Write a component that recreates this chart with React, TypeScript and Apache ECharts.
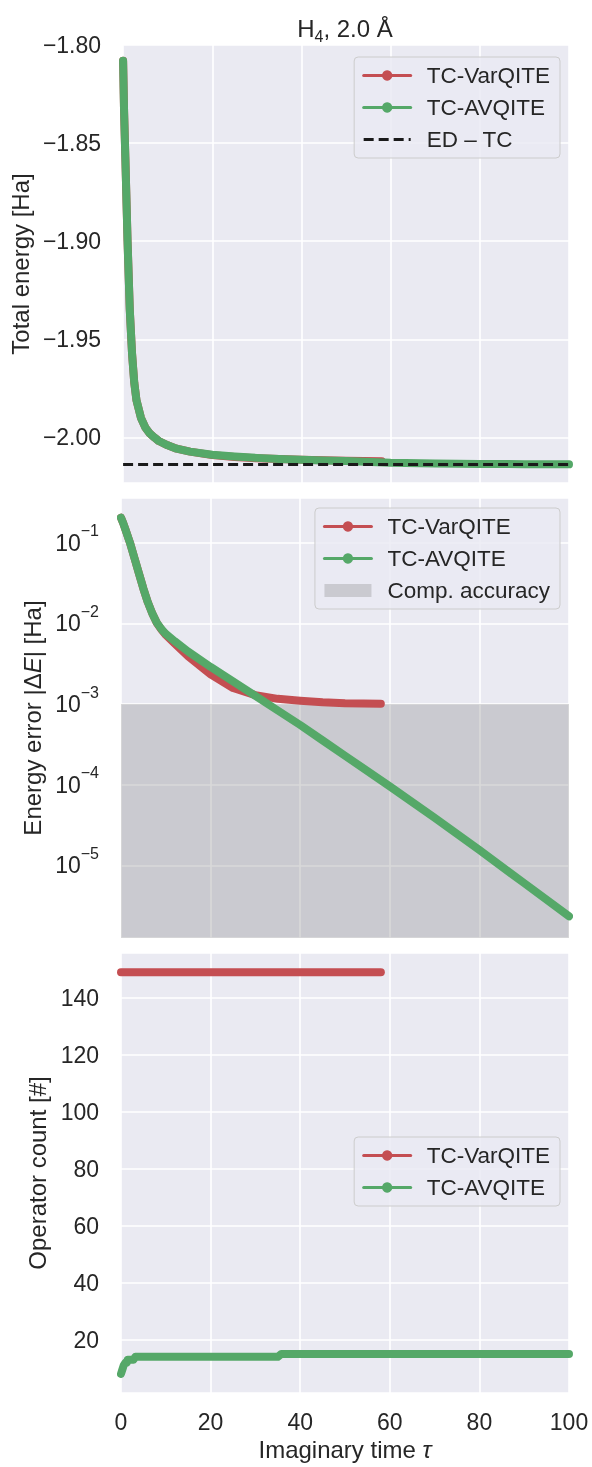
import React, { useEffect, useRef } from "react";
import * as echarts from "echarts";

const FONT = "Liberation Sans, Arial, Helvetica, sans-serif";
const TEXT = "#262626";
const RED = "#C44E52";
const GREEN = "#55A868";

// ---- Panel 1: total energy ----
const tauEnergyAV = [0, 0.2, 0.5, 1, 1.5, 2, 2.5, 3, 4, 5, 6, 7, 8, 10, 12, 15, 20, 25, 30, 35, 40, 45, 50, 60, 70, 80, 90, 100];
const energyAV = [-1.808, -1.832, -1.857, -1.9, -1.935, -1.957, -1.972, -1.981, -1.99, -1.995, -1.998, -2.0, -2.0018, -2.004, -2.0057, -2.0072, -2.0088, -2.0097, -2.0104, -2.011, -2.0114, -2.0117, -2.012, -2.0129, -2.0132, -2.0135, -2.0136, -2.0137];
const tauEnergyVar = [0, 0.2, 0.5, 1, 1.5, 2, 2.5, 3, 4, 5, 6, 7, 8, 10, 12, 15, 20, 25, 30, 35, 40, 45, 50, 58];
const energyVar = [-1.808, -1.832, -1.857, -1.9, -1.935, -1.957, -1.972, -1.981, -1.99, -1.995, -1.998, -2.0, -2.0018, -2.004, -2.0057, -2.0072, -2.009, -2.01, -2.0106, -2.011, -2.0113, -2.0116, -2.0118, -2.0121];
const edTC = -2.0138;
const energyAxis = { min: -2.0232, max: -1.8 };

// ---- Panel 2: energy error ----
const tauErrAV = [0, 0.5, 1, 2, 3, 4, 5, 6, 7, 8, 9, 10, 12, 15, 20, 25, 30, 35, 40, 45, 50, 60, 70, 80, 90, 100];
const errAV = [0.204, 0.174, 0.145, 0.1, 0.0646, 0.0417, 0.0269, 0.0182, 0.0132, 0.0102, 0.0085, 0.0074, 0.006, 0.00447, 0.00288, 0.00191, 0.00126, 0.000832, 0.00055, 0.000355, 0.000229, 9.55e-5, 3.89e-5, 1.55e-5, 6.03e-6, 2.34e-6];
const tauErrVar = [0, 0.5, 1, 2, 3, 4, 5, 6, 7, 8, 9, 10, 12, 15, 20, 25, 30, 35, 40, 45, 50, 58];
const errVar = [0.204, 0.174, 0.145, 0.1, 0.0646, 0.0417, 0.0269, 0.0182, 0.0132, 0.0101, 0.0084, 0.0072, 0.00562, 0.00389, 0.00234, 0.00158, 0.00129, 0.00116, 0.0011, 0.00105, 0.00102, 0.00101];
const compAccuracy = 1e-3;
const errAxis = { min: 1.26e-6, max: 0.358 };

// ---- Panel 3: operator count ----
const tauOpAV = [0, 0.2, 0.4, 0.6, 1.0, 1.3, 1.5, 2.8, 3.2, 35, 35.8, 100];
const opAV = [8, 9, 10, 11, 12, 12, 13, 13, 14, 14, 15, 15];
const tauOpVar = [0, 58];
const opVar = [149, 149];
const opAxis = { min: 1.3, max: 155.8 };

const xTicks = { min: 0, max: 100, interval: 20 };
const names = { var: "TC-VarQITE", av: "TC-AVQITE", ed: "ED \u2013 TC", acc: "Comp. accuracy" };

const pairs = (xs: number[], ys: number[]) => xs.map((x, i) => [x, ys[i]]);
const isMult = (v: number, step: number) => Math.abs(v / step - Math.round(v / step)) < 1e-6;
const minus = (s: string) => s.replace("-", "\u2212");

export default function App() {
  const ref = useRef<HTMLDivElement>(null);
  useEffect(() => {
    if (!ref.current) return;
    const chart = echarts.init(ref.current, undefined, { renderer: "svg" });
    const grids = [
      { left: 121, top: 45, width: 448, height: 438 },
      { left: 121, top: 498, width: 448, height: 440 },
      { left: 121, top: 953, width: 448, height: 440 },
    ].map((g) => ({ ...g, show: true, backgroundColor: "#EAEAF2", borderWidth: 0 }));

    const TICK = 23;
    const NAME = 24;
    const splitLine = { show: true, lineStyle: { color: "#ffffff", width: 1.6 } };
    const labelBase = { color: TEXT, fontSize: TICK, fontFamily: FONT };
    const nameStyle = { color: TEXT, fontSize: NAME, fontFamily: FONT };
    const italicRich = { i: { fontStyle: "italic", fontSize: NAME, fontFamily: FONT, color: TEXT } };
    const xBase = {
      type: "value",
      ...xTicks,
      axisLine: { show: false },
      axisTick: { show: false },
      splitLine,
    };
    const yBase = { axisLine: { show: false }, axisTick: { show: false }, splitLine, nameLocation: "middle" };

    const lineSeries = (name: string, data: number[][], color: string, xi: number, z: number) => ({
      name,
      type: "line",
      xAxisIndex: xi,
      yAxisIndex: xi,
      data,
      color,
      symbol: "circle",
      showSymbol: false,
      z,
      lineStyle: { width: 8, color, cap: "round", join: "round" },
      itemStyle: { color },
      emphasis: { disabled: true },
    });

    const legendBase = {
      orient: "vertical",
      right: 32,
      itemWidth: 47,
      itemHeight: 13,
      itemGap: 9,
      padding: [7, 10, 7, 8],
      backgroundColor: "rgba(234,234,242,0.8)",
      borderColor: "#cccccc",
      borderWidth: 1,
      borderRadius: 4,
      selectedMode: false,
      textStyle: { color: TEXT, fontSize: 22.5, fontFamily: FONT, padding: [0, 0, 0, 11] },
      lineStyle: { width: 3 },
    };

    chart.setOption({
      animation: false,
      grid: grids,
      graphic: [
        {
          type: "text",
          x: 345,
          y: 28,
          style: {
            text: "H{sub|4}, 2.0 \u00C5",
            fill: TEXT,
            font: `${NAME}px ${FONT}`,
            fontSize: NAME,
            fontFamily: FONT,
            lineHeight: 32,
            align: "center",
            verticalAlign: "middle",
            textAlign: "center",
            textVerticalAlign: "middle",
            rich: {
              sub: { fontSize: 16, fontFamily: FONT, fill: TEXT, verticalAlign: "bottom", lineHeight: 16 },
            },
          },
        },
      ],
      legend: [
        {
          ...legendBase,
          top: 57,
          data: [names.var, names.av, { name: names.ed, itemStyle: { opacity: 0 } }],
        },
        { ...legendBase, top: 508, data: [names.var, names.av, { name: names.acc, icon: "rect" }] },
        { ...legendBase, top: 1137, data: [names.var, names.av] },
      ],
      xAxis: [
        { ...xBase, gridIndex: 0, axisLabel: { show: false } },
        { ...xBase, gridIndex: 1, axisLabel: { show: false } },
        {
          ...xBase,
          gridIndex: 2,
          axisLabel: { ...labelBase, margin: 17 },
          name: "Imaginary time {i|\u03C4}",
          nameLocation: "middle",
          nameGap: 44,
          nameTextStyle: { ...nameStyle, rich: italicRich },
        },
      ],
      yAxis: [
        {
          ...yBase,
          type: "value",
          gridIndex: 0,
          ...energyAxis,
          splitNumber: 5,
          axisLabel: {
            ...labelBase,
            margin: 22,
            formatter: (v: number) => (isMult(v, 0.05) ? minus(v.toFixed(2)) : ""),
          },
          name: "Total energy [Ha]",
          nameGap: 85,
          nameTextStyle: nameStyle,
        },
        {
          ...yBase,
          type: "log",
          logBase: 10,
          gridIndex: 1,
          ...errAxis,
          axisLabel: {
            ...labelBase,
            margin: 22,
            formatter: (v: number) => {
              const n = Math.log10(v);
              if (Math.abs(n - Math.round(n)) > 1e-6) return "";
              return "{b|10}{s|" + minus(String(Math.round(n))) + "}";
            },
            rich: {
              b: { fontSize: TICK, fontFamily: FONT, color: TEXT, lineHeight: 40 },
              s: { fontSize: 16, fontFamily: FONT, color: TEXT, verticalAlign: "top", lineHeight: 16 },
            },
          },
          name: "Energy error |\u0394{i|E}| [Ha]",
          nameGap: 75,
          nameTextStyle: { ...nameStyle, rich: italicRich },
        },
        {
          ...yBase,
          type: "value",
          gridIndex: 2,
          ...opAxis,
          splitNumber: 8,
          axisLabel: {
            ...labelBase,
            margin: 22,
            formatter: (v: number) => (isMult(v, 20) ? String(Math.round(v)) : ""),
          },
          name: "Operator count [#]",
          nameGap: 66,
          nameTextStyle: nameStyle,
        },
      ],
      series: [
        lineSeries(names.var, pairs(tauEnergyVar, energyVar), RED, 0, 2),
        lineSeries(names.av, pairs(tauEnergyAV, energyAV), GREEN, 0, 3),
        {
          name: names.ed,
          type: "line",
          xAxisIndex: 0,
          yAxisIndex: 0,
          data: [
            [xTicks.min, edTC],
            [xTicks.max, edTC],
          ],
          symbol: "none",
          color: "#1a1a1a",
          z: 4,
          lineStyle: { width: 3, color: "#1a1a1a", type: [10, 5] },
          itemStyle: { color: "#1a1a1a" },
        },
        {
          name: names.acc,
          type: "line",
          xAxisIndex: 1,
          yAxisIndex: 1,
          data: [],
          color: "rgba(128,128,128,0.3)",
          itemStyle: { color: "rgba(128,128,128,0.3)" },
          z: 1,
          markArea: {
            silent: true,
            itemStyle: { color: "rgba(128,128,128,0.3)" },
            data: [[{ yAxis: errAxis.min }, { yAxis: compAccuracy }]],
          },
        },
        lineSeries(names.var, pairs(tauErrVar, errVar), RED, 1, 2),
        lineSeries(names.av, pairs(tauErrAV, errAV), GREEN, 1, 3),
        lineSeries(names.var, pairs(tauOpVar, opVar), RED, 2, 2),
        lineSeries(names.av, pairs(tauOpAV, opAV), GREEN, 2, 3),
      ],
    });
    return () => chart.dispose();
  }, []);
  return <div ref={ref} style={{ position: "fixed", left: 0, top: 0, width: 592, height: 1467 }} />;
}
